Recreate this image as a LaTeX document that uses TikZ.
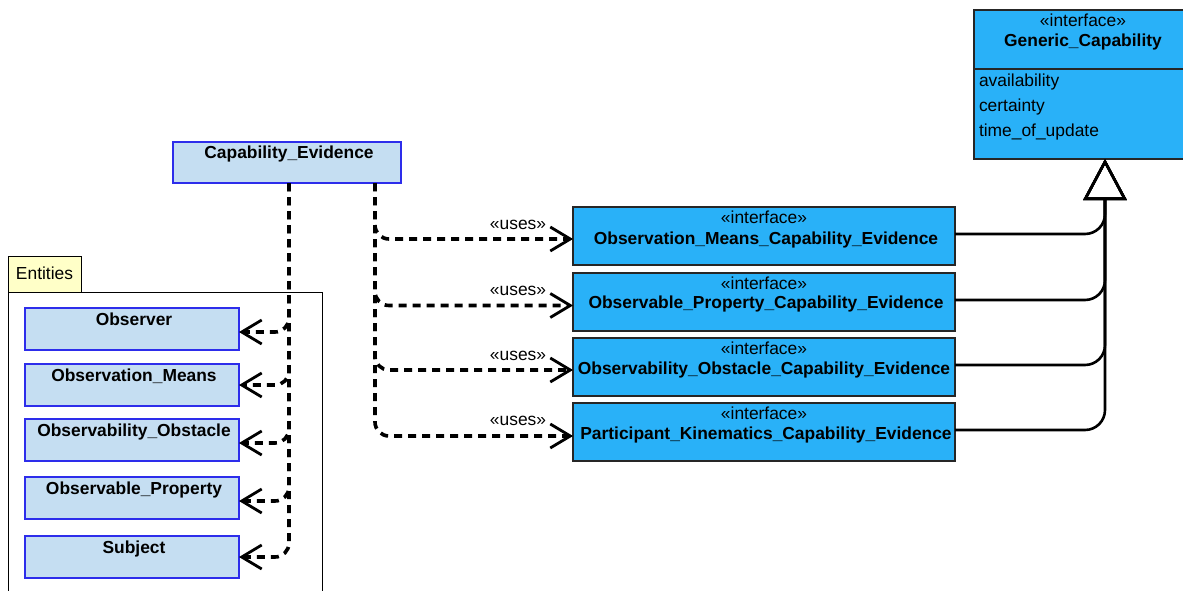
\documentclass[tikz,border=0pt]{standalone}
\usepackage{fontspec}
\setmainfont{Liberation Sans}
\usetikzlibrary{arrows.meta,calc}
\definecolor{ifill}{RGB}{41,177,248}
\definecolor{efill}{RGB}{197,222,242}
\definecolor{eborder}{RGB}{45,45,235}
\definecolor{pkgtab}{RGB}{255,255,200}
\begin{document}
\begin{tikzpicture}[x=1pt,y=-1pt,
  every node/.style={font=\fontsize{17.4}{21}\selectfont, inner sep=0pt, outer sep=0pt},
  ibox/.style={draw=black!85, line width=1.3pt, fill=ifill, minimum width=382pt, minimum height=58pt, anchor=north west},
  ebox/.style={draw=eborder, line width=1.3pt, fill=efill, minimum width=214pt, minimum height=42pt, anchor=north west},
  txt/.style={anchor=base},
  btxt/.style={anchor=base, font=\fontsize{17.4}{21}\selectfont\bfseries},
  uses/.style={line width=3.6pt, dash pattern=on 8pt off 6pt, rounded corners=14pt,
    -{Straight Barb[length=20pt,width=24pt,line width=2.8pt]}},
  gen/.style={line width=2.6pt, rounded corners=20pt,
    -{Triangle[open,length=41pt,width=43pt,line width=2.6pt]}}
]
\useasboundingbox (0,0) rectangle (1183,591);
\clip (0,0) rectangle (1183,591);

% Entities package
\draw[line width=1pt, fill=white] (8,292) rectangle (322,620);
\draw[line width=1pt, fill=pkgtab] (8,256) rectangle (81,292);
\node[anchor=base west] (pkgname) at (16,279) {Entities};

% Generic_Capability interface
\node[draw=black!85, line width=1.3pt, fill=ifill, minimum width=218pt, minimum height=149pt, anchor=north west] (gc) at (974,10) {};
\draw[black!85, line width=1.3pt] ([yshift=-59pt]gc.north west) -- ([yshift=-59pt]gc.north east);
\node[txt] (gcst) at (1083,27) {«interface»};
\node[btxt] (gcname) at (1083,47) {Generic\_Capability};
\node[anchor=base west] (gca1) at (979,87) {availability};
\node[anchor=base west] (gca2) at (979,112) {certainty};
\node[anchor=base west] (gca3) at (979,137) {time\_of\_update};

% Capability_Evidence
\node[draw=eborder, line width=1.3pt, fill=efill, minimum width=228pt, minimum height=41pt, anchor=north west] (ce) at (173,142) {};
\node[btxt] (cename) at (289,158) {Capability\_Evidence};

% Interfaces
\node[ibox] (o1) at (573,207) {};
\node[txt] (o1s) at ($(o1.north)+(0,16)$) {«interface»};
\node[btxt] (o1n) at ($(o1.north)+(2,37)$) {Observation\_Means\_Capability\_Evidence};
\node[ibox] (o2) at (573,273) {};
\node[txt] (o2s) at ($(o2.north)+(0,16)$) {«interface»};
\node[btxt] (o2n) at ($(o2.north)+(2,35)$) {Observable\_Property\_Capability\_Evidence};
\node[ibox] (o3) at (573,338) {};
\node[txt] (o3s) at ($(o3.north)+(0,16)$) {«interface»};
\node[btxt] (o3n) at ($(o3.north)+(0,36)$) {Observability\_Obstacle\_Capability\_Evidence};
\node[ibox] (o4) at (573,403) {};
\node[txt] (o4s) at ($(o4.north)+(0,16)$) {«interface»};
\node[btxt] (o4n) at ($(o4.north)+(2,36)$) {Participant\_Kinematics\_Capability\_Evidence};

% Entities
\node[ebox] (e1) at (25,308) {};
\node[btxt] (e1n) at ($(e1.north)+(2,17)$) {Observer};
\node[ebox] (e2) at (25,364) {};
\node[btxt] (e2n) at ($(e2.north)+(2,17)$) {Observation\_Means};
\node[ebox] (e3) at (25,419) {};
\node[btxt] (e3n) at ($(e3.north)+(2,17)$) {Observability\_Obstacle};
\node[ebox] (e4) at (25,477) {};
\node[btxt] (e4n) at ($(e4.north)+(2,17)$) {Observable\_Property};
\node[ebox] (e5) at (25,536) {};
\node[btxt] (e5n) at ($(e5.north)+(2,17)$) {Subject};

% generalizations
\coordinate (gtip) at ([xshift=131pt]gc.south west);
\foreach \o in {o1,o2,o3,o4}
  \draw[gen] ([yshift=2pt]\o.east) -| (gtip);

% uses dependencies
\foreach \o/\dy in {o1/-3,o2/-3.5,o3/-3,o4/-4}{
  \draw[uses] ([xshift=-26pt]ce.south east) |- ([yshift=\dy pt]\o.west);
  \node[txt] (\o u) at ($(\o.west)+(-55,-7)$) {«uses»};
}

% entity dependencies
\foreach \e/\dy in {e1/-3,e2/0,e3/-3,e4/-3,e5/0}
  \draw[uses] ([xshift=116pt]ce.south west) |- ([yshift=\dy pt]\e.east);

\end{tikzpicture}
\end{document}
